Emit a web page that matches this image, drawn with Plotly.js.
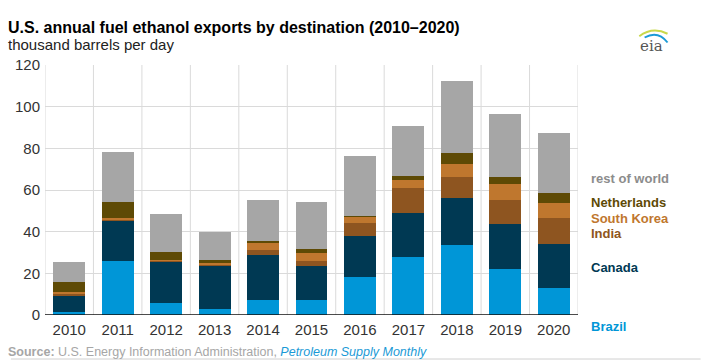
<!DOCTYPE html>
<html>
<head>
<meta charset="utf-8">
<script src="https://cdn.plot.ly/plotly-3.0.1.min.js"></script>
<style>html,body{margin:0;padding:0;background:#fff;}#chart{width:701px;height:361px;}</style>
</head>
<body>
<div id="chart"></div>
<script>
const years = ['2010','2011','2012','2013','2014','2015','2016','2017','2018','2019','2020'];
const brazil      = [1.6, 25.7, 5.6, 2.9, 7.2, 7.2, 18.4, 27.8, 33.7, 22.2, 12.9];
const canada      = [7.6, 19.4, 20.0, 20.8, 21.6, 16.1, 19.6, 21.2, 22.5, 21.5, 21.3];
const india       = [1.0, 0.3, 0.3, 0.5, 2.6, 2.4, 6.4, 12.0, 10.2, 11.7, 12.4];
const southKorea  = [1.0, 1.0, 0.7, 1.0, 3.0, 4.3, 2.8, 3.6, 5.9, 7.6, 7.2];
const netherlands = [4.5, 7.9, 3.8, 1.0, 1.3, 1.9, 0.5, 2.0, 5.6, 3.2, 4.8];
const restOfWorld = [9.6, 23.8, 17.9, 13.7, 19.5, 22.5, 28.6, 24.1, 34.4, 30.2, 29.0];
const yTicks = [0, 20, 40, 60, 80, 100, 120];

const series = [
  {name: 'Brazil', y: brazil, color: '#0096D7', label: 'Brazil', ly: -0.044},
  {name: 'Canada', y: canada, color: '#003953', label: 'Canada', ly: 0.192},
  {name: 'India', y: india, color: '#8E5520', label: 'India', ly: 0.324},
  {name: 'South Korea', y: southKorea, color: '#BF772E', label: 'South Korea', ly: 0.388},
  {name: 'Netherlands', y: netherlands, color: '#5E4A05', label: 'Netherlands', ly: 0.45},
  {name: 'rest of world', y: restOfWorld, color: '#A6A6A6', label: 'rest of world', ly: 0.546, tc: '#8C8C8C'}
];

const traces = series.map(s => ({
  type: 'bar', name: s.name, x: years, y: s.y,
  marker: {color: s.color, line: {width: 0}},
  hoverinfo: 'skip'
}));

const font = 'Liberation Sans, Arial, sans-serif';
const shapes = [];
for (let i = 0; i <= years.length; i++) {
  shapes.push({type: 'line', xref: 'x', yref: 'paper', x0: i - 0.5, x1: i - 0.5, y0: 0, y1: 1,
    line: {color: '#DADADA', width: 1}, layer: 'below'});
}
shapes.push({type: 'line', xref: 'paper', yref: 'paper', x0: -0.064, x1: 1.23, y0: -0.176, y1: -0.176,
  line: {color: '#D0D0D0', width: 1}});

const annotations = series.map(s => ({
  xref: 'paper', yref: 'paper', x: 1.02, y: s.ly, xanchor: 'left', yanchor: 'middle',
  text: '<b>' + s.label + '</b>', showarrow: false,
  font: {family: font, size: 13, color: s.tc || s.color}
}));
annotations.push({
  xref: 'paper', yref: 'paper', x: -0.073, y: 1.152, xanchor: 'left', yanchor: 'middle',
  text: '<b>U.S. annual fuel ethanol exports by destination (2010\u20132020)</b>', showarrow: false,
  font: {family: font, size: 16, color: '#000'}
});
annotations.push({
  xref: 'paper', yref: 'paper', x: -0.073, y: 1.08, xanchor: 'left', yanchor: 'middle',
  text: 'thousand barrels per day', showarrow: false,
  font: {family: font, size: 15, color: '#222'}
});
annotations.push({
  xref: 'paper', yref: 'paper', x: -0.073, y: -0.148, xanchor: 'left', yanchor: 'middle',
  text: '<b>Source:</b> U.S. Energy Information Administration, <i><span style="color:#1A9AD6">Petroleum Supply Monthly</span></i>',
  showarrow: false, font: {family: font, size: 12.5, color: '#A6A6A6'}
});
annotations.push({
  xref: 'paper', yref: 'paper', x: 1.137, y: 1.075, xanchor: 'center', yanchor: 'middle',
  text: 'eia', showarrow: false, font: {family: 'DejaVu Serif, serif', size: 15, color: '#555'}
});
shapes.push({type: 'path', xref: 'paper', yref: 'paper',
  path: 'M 1.115 1.115 Q 1.14 1.155 1.168 1.125', line: {color: '#C8D84A', width: 2}});
shapes.push({type: 'path', xref: 'paper', yref: 'paper',
  path: 'M 1.125 1.11 Q 1.15 1.14 1.168 1.09', line: {color: '#1A9AD6', width: 2}});

const layout = {
  width: 701, height: 361,
  margin: {l: 45, r: 123, t: 65, b: 46},
  paper_bgcolor: '#fff', plot_bgcolor: '#fff',
  barmode: 'stack', bargap: 0.34,
  showlegend: false,
  font: {family: font, size: 15, color: '#333'},
  xaxis: {type: 'category', showgrid: false, ticks: '', tickfont: {size: 15, color: '#333'},
    showline: false, zeroline: false, range: [-0.5, 10.5], ticklabelstandoff: 4},
  yaxis: {range: [0, 120], tickvals: yTicks, ticktext: yTicks.map(String), showgrid: true,
    gridcolor: '#DADADA', gridwidth: 1, zeroline: false, showline: false, ticks: '',
    ticklabelstandoff: 4, tickfont: {size: 15, color: '#333'}},
  shapes: shapes.concat([{type: 'line', xref: 'paper', yref: 'y', x0: 0, x1: 1, y0: 0, y1: 0,
    line: {color: '#111', width: 1.5}}]),
  annotations: annotations
};

Plotly.newPlot('chart', traces, layout, {displayModeBar: false, staticPlot: true});
</script>
</body>
</html>
